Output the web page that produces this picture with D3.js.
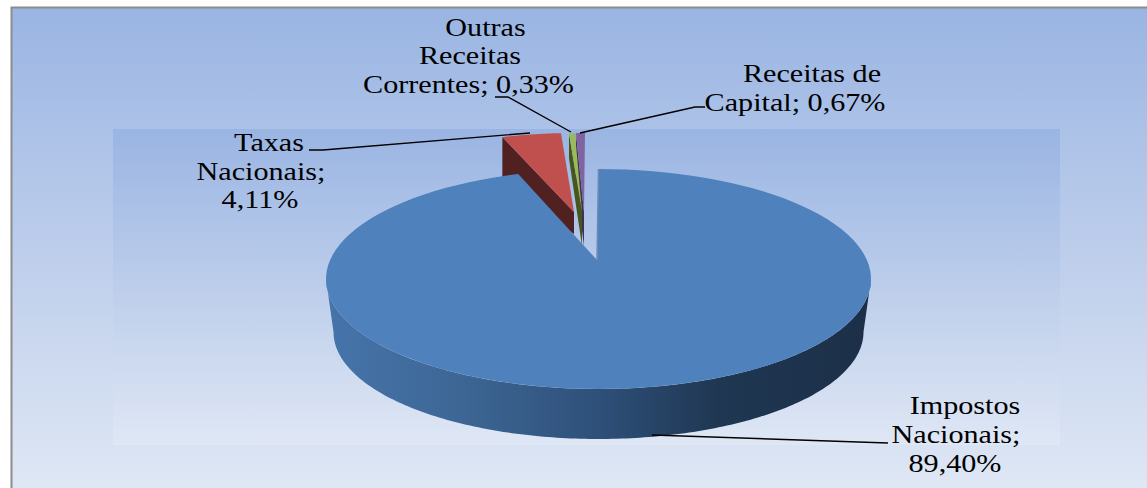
<!DOCTYPE html>
<html>
<head>
<meta charset="utf-8">
<script src="https://cdn.jsdelivr.net/npm/d3@7"></script>
<style>
  html, body { margin: 0; padding: 0; background: #fff; overflow: hidden; }
  svg { display: block; }
</style>
</head>
<body>
<svg id="chart"></svg>
<script>
// ================================
// DATA
// ================================
const categories = ["Impostos Nacionais", "Taxas Nacionais", "Outras Receitas Correntes", "Receitas de Capital"];
const values = [89.40, 4.11, 0.33, 0.67];
const valueLabels = ["89,40%", "4,11%", "0,33%", "0,67%"];
const topColors = ["#4f81bd", "#c0504d", "#9bbb59", "#8064a2"];
const wallColors = ["#2f4f78", "#512020", "#46561f", "#3f3154"];

// ================================
// SVG SETUP
// ================================
const width = 1147;
const height = 488;

const svg = d3.select("#chart")
    .attr("width", width)
    .attr("height", height);

const defs = svg.append("defs");

function vGradient(id, y1, y2) {
    const grad = defs.append("linearGradient")
        .attr("id", id)
        .attr("gradientUnits", "userSpaceOnUse")
        .attr("x1", 0).attr("x2", 0)
        .attr("y1", y1).attr("y2", y2);
    grad.append("stop").attr("offset", "0%").attr("stop-color", "#9ab5e3");
    grad.append("stop").attr("offset", "55%").attr("stop-color", "#c0d0ec");
    grad.append("stop").attr("offset", "100%").attr("stop-color", "#dfe7f5");
}

vGradient("bgGrad", 8, 488);
vGradient("plotGrad", 129, 445);

const wallGrad = defs.append("linearGradient")
    .attr("id", "wallGrad")
    .attr("gradientUnits", "userSpaceOnUse")
    .attr("x1", 326).attr("x2", 871)
    .attr("y1", 0).attr("y2", 0);
[[0, "#4674ab"], [0.25, "#3d6694"], [0.5, "#2e5079"], [0.72, "#1f3752"], [1, "#1c2f48"]]
    .forEach(s => wallGrad.append("stop").attr("offset", s[0]).attr("stop-color", s[1]));

// chart area + plot area
svg.append("rect")
    .attr("x", 11).attr("y", 8)
    .attr("width", width - 11).attr("height", height - 8)
    .attr("fill", "url(#bgGrad)");
svg.append("path")
    .attr("d", `M11.5,${height}V7.5H${width}`)
    .attr("fill", "none")
    .attr("stroke", "#8c8c8c")
    .attr("stroke-width", 2);
svg.append("rect")
    .attr("x", 113).attr("y", 129)
    .attr("width", 947).attr("height", 316)
    .attr("fill", "url(#plotGrad)");

// ================================
// PIE GEOMETRY
// ================================
const pie = d3.pie().sort(null).value(d => d);
const slices = pie(values);

const tau = Math.PI * 2;
const gapStart = slices[0].endAngle;

const top3d = { cx: 598.5, cy: 279, rx: 272.5, ry: 110 };
const bottom3d = { cx: 598.5, cy: 332, rx: 265, ry: 107 };

// explosion of each slice: shift of the rim, apex, depth of the cut wall,
// and how much the 3D view squeezes the angles at the far side of the pie
const explode = [
    { dx: 0, dy: 0, apexX: 597, apexY: 260, rimDepth: 0, apexDepth: 0, squeeze: 0.88 },
    { dx: -23, dy: -36, apexX: 574, apexY: 212, rimDepth: 50, apexDepth: 22, squeeze: 0.8 },
    { dx: -11.4, dy: -36, apexX: 582, apexY: 212, rimDepth: 25, apexDepth: 34, squeeze: 1 },
    { dx: -13.5, dy: -36, apexX: 584, apexY: 212, rimDepth: 50, apexDepth: 34, squeeze: 0.75 }
];

function rimAngle(a, squeeze) {
    return d3.scaleLinear()
        .domain([0, gapStart, tau])
        .range([0, tau - (tau - gapStart) * squeeze, tau])(a);
}

function rimPoint(e, t, dx = 0, dy = 0) {
    return [e.cx + dx + e.rx * Math.sin(t), e.cy + dy - e.ry * Math.cos(t)];
}

function sliceTop(d, i) {
    const ex = explode[i];
    const steps = d3.range(0, 1.0001, 1 / 120);
    const pts = steps.map(s => {
        const a = d.startAngle + (d.endAngle - d.startAngle) * s;
        return rimPoint(top3d, rimAngle(a, ex.squeeze), ex.dx, ex.dy);
    });
    pts.push([ex.apexX, ex.apexY]);
    return pts;
}

function sliceWall(d, i) {
    const ex = explode[i];
    const p = rimPoint(top3d, rimAngle(d.startAngle, ex.squeeze), ex.dx, ex.dy);
    return [
        p,
        [ex.apexX, ex.apexY],
        [ex.apexX, ex.apexY + ex.apexDepth],
        [p[0], p[1] + ex.rimDepth]
    ];
}

const line = d3.line();
const closed = pts => line(pts) + "Z";

const g = svg.append("g");

// small slices first, the big one covers their walls
[3, 1, 2].forEach(i => {
    g.append("path")
        .attr("d", closed(sliceWall(slices[i], i)))
        .attr("fill", wallColors[i]);
    g.append("path")
        .attr("d", closed(sliceTop(slices[i], i)))
        .attr("fill", topColors[i]);
});

// big slice: outer wall then top face
const half = d3.range(Math.PI / 2, Math.PI * 1.5 + 0.001, Math.PI / 180);
const wallPts = half.map(t => rimPoint(top3d, t))
    .concat(half.slice().reverse().map(t => rimPoint(bottom3d, t)));

g.append("path")
    .attr("d", closed(wallPts))
    .attr("fill", "url(#wallGrad)");

g.append("path")
    .attr("d", closed(sliceTop(slices[0], 0)))
    .attr("fill", topColors[0]);

// thin cut edge on the open side
g.append("path")
    .attr("d", line([rimPoint(top3d, 0), [explode[0].apexX, explode[0].apexY]]))
    .attr("fill", "none")
    .attr("stroke", "#6c8bb3")
    .attr("stroke-width", 1.5);

// ================================
// LEADERS + LABELS
// ================================
const leaderLines = [
    [[652, 435], [888, 443]],
    [[309, 150], [323, 150], [530, 133]],
    [[495, 97], [508, 97], [571, 132]],
    [[580, 133], [695, 107], [705, 107]]
];

svg.selectAll("path.leader")
    .data(leaderLines)
    .join("path")
    .attr("class", "leader")
    .attr("d", d => line(d))
    .attr("fill", "none")
    .attr("stroke", "#000")
    .attr("stroke-width", 1.4);

const labelLines = [
    { text: "Impostos", x: 965, y: 414 },
    { text: "Nacionais;", x: 956, y: 443 },
    { text: valueLabels[0], x: 955, y: 472 },
    { text: "Taxas", x: 269, y: 151 },
    { text: "Nacionais;", x: 261, y: 180 },
    { text: valueLabels[1], x: 260, y: 208 },
    { text: "Outras", x: 485.5, y: 36 },
    { text: "Receitas", x: 470, y: 64 },
    { text: `Correntes; ${valueLabels[2]}`, x: 468.5, y: 93 },
    { text: "Receitas de", x: 812, y: 82 },
    { text: `Capital; ${valueLabels[3]}`, x: 795, y: 111 }
];

svg.selectAll("text.label")
    .data(labelLines)
    .join("text")
    .attr("class", "label")
    .attr("transform", d => `translate(${d.x}, ${d.y}) scale(1.16, 1)`)
    .attr("text-anchor", "middle")
    .style("font-family", "'Liberation Serif', serif")
    .style("font-size", "26px")
    .style("fill", "#000")
    .text(d => d.text);
</script>
</body>
</html>
